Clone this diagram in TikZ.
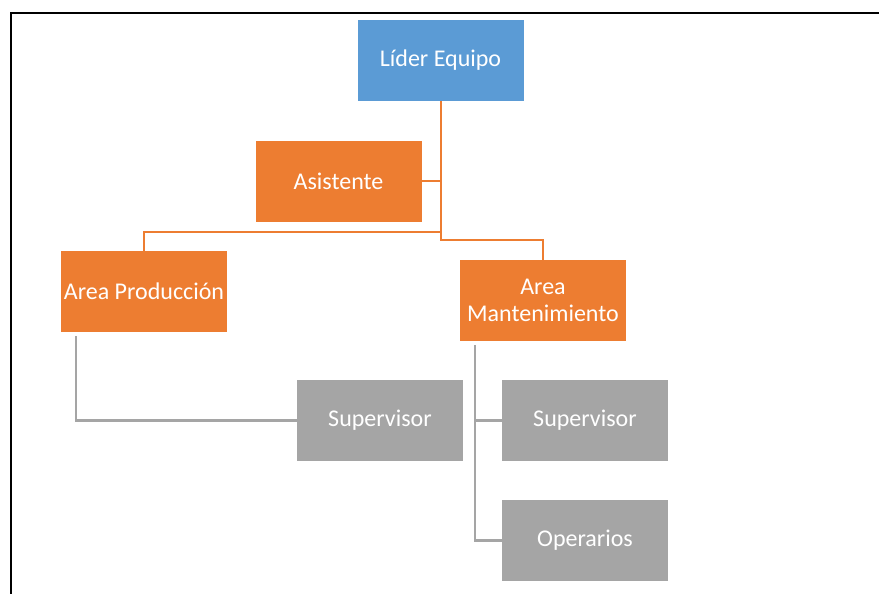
\documentclass[tikz,border=0pt]{standalone}
\usepackage{fontspec}
\setmainfont{Carlito}
\usepackage{tikz}

\definecolor{jefeblue}{HTML}{5B9BD5}
\definecolor{areaorange}{HTML}{ED7D31}
\definecolor{staffgray}{HTML}{A5A5A5}

\tikzset{
  unit/.style={rectangle, minimum width=166pt, minimum height=81pt, inner sep=0pt,
    text=white, align=center, font=\fontsize{24}{27}\selectfont},
  orgline/.style={areaorange, line width=2pt},
  subline/.style={staffgray, line width=2.5pt}
}

\begin{document}
\begin{tikzpicture}
  [x=1pt, y=-1pt]
  \useasboundingbox (0,0) rectangle (879,594);
  \draw[line width=2pt] (10.5,594) -- (10.5,13) -- (879,13);

  \node[unit, fill=jefeblue] (lider) at (440.5, 60.5) {Líder Equipo};
  \node[unit, fill=areaorange] (asist) at (338.5, 181) {Asistente};
  \node[unit, fill=areaorange] (prod) at (144, 291.5) {Area Producción};
  \node[unit, fill=areaorange] (mant) at (543, 300.5) {Area\\Mantenimiento};
  \node[unit, fill=staffgray] (sup1) at (380, 420.5) {Supervisor};
  \node[unit, fill=staffgray] (sup2) at (585, 420.5) {Supervisor};
  \node[unit, fill=staffgray] (oper) at (585, 540.5) {Operarios};

  \coordinate (jp) at (440.5, 232);
  \coordinate (jm) at (440.5, 240);

  \draw[orgline] (lider) -- (jm) -| (mant);
  \draw[orgline] (jp) -| (prod);
  \draw[orgline] (asist) -- (asist -| lider);

  \draw[subline] ([xshift=15pt, yshift=-4pt]prod.south west) |- (sup1);
  \foreach \to in {sup2, oper}
  \draw[subline] ([xshift=15pt, yshift=-4pt]mant.south west) |- (\to);
\end{tikzpicture}
\end{document}
